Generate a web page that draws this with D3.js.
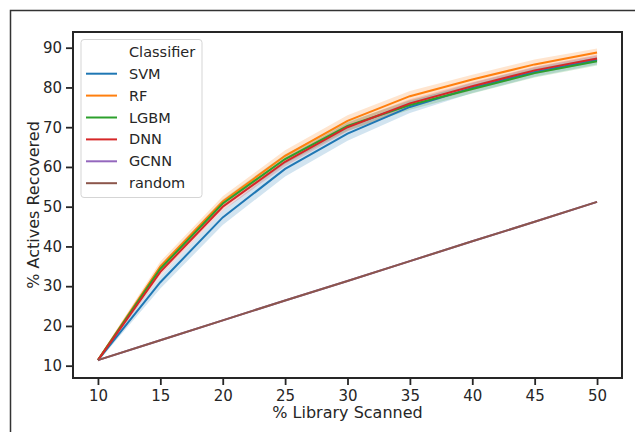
<!DOCTYPE html>
<html>
<head>
<meta charset="utf-8">
<script src="https://cdn.jsdelivr.net/npm/d3@7"></script>
<style>
  body { margin: 0; background: #fff; }
  text { font-family: "DejaVu Sans", sans-serif; fill: #262626; }
</style>
</head>
<body>
<div id="chart"></div>
<script>
// data
var xVals = [10, 15, 20, 25, 30, 35, 40, 45, 50];
var classifiers = ["SVM", "RF", "LGBM", "DNN", "GCNN", "random"];
var colors = ["#1f77b4", "#ff7f0e", "#2ca02c", "#d62728", "#9467bd", "#8c564b"];

var svmMean = [11.4, 31.0, 47.3, 59.5, 68.4, 75.1, 79.9, 83.9, 86.9];
var svmLow  = [11.0, 29.4, 45.4, 57.6, 66.6, 73.6, 78.6, 82.7, 85.8];
var svmHigh = [11.8, 32.5, 49.0, 61.3, 70.1, 76.5, 81.2, 85.1, 88.0];

var rfMean = [11.4, 35.0, 51.3, 62.8, 71.6, 77.8, 82.0, 85.8, 88.8];
var rfLow  = [11.0, 33.8, 50.0, 61.4, 70.2, 76.5, 80.8, 84.7, 87.8];
var rfHigh = [11.8, 36.2, 52.6, 64.2, 73.0, 79.1, 83.2, 87.0, 89.8];

var lgbmMean = [11.4, 34.4, 50.8, 62.0, 70.3, 75.6, 79.6, 83.6, 86.6];
var lgbmLow  = [11.0, 33.4, 49.7, 60.8, 69.1, 74.4, 78.5, 82.5, 85.5];
var lgbmHigh = [11.8, 35.4, 51.8, 63.2, 71.4, 76.8, 80.7, 84.7, 87.6];

var dnnMean = [11.4, 33.6, 50.0, 61.3, 70.0, 76.0, 80.3, 84.3, 87.3];
var dnnLow  = [11.0, 32.6, 49.0, 60.2, 68.9, 75.0, 79.3, 83.4, 86.4];
var dnnHigh = [11.8, 34.6, 51.0, 62.4, 71.1, 77.0, 81.3, 85.2, 88.2];

// GCNN runs under the random line in the picture
var gcnnMean = [11.4, 16.4, 21.4, 26.4, 31.3, 36.3, 41.3, 46.2, 51.2];
var gcnnLow  = [11.2, 16.2, 21.2, 26.2, 31.1, 36.1, 41.1, 46.0, 51.0];
var gcnnHigh = [11.6, 16.6, 21.6, 26.6, 31.5, 36.5, 41.5, 46.4, 51.4];

var randMean = [11.4, 16.4, 21.4, 26.4, 31.3, 36.3, 41.3, 46.2, 51.2];
var randLow  = [11.2, 16.2, 21.2, 26.2, 31.1, 36.1, 41.1, 46.0, 51.0];
var randHigh = [11.6, 16.6, 21.6, 26.6, 31.5, 36.5, 41.5, 46.4, 51.4];

var xTicks = [10, 15, 20, 25, 30, 35, 40, 45, 50];
var yTicks = [10, 20, 30, 40, 50, 60, 70, 80, 90];

var series = [
  { name: "SVM", mean: svmMean, lo: svmLow, hi: svmHigh },
  { name: "RF", mean: rfMean, lo: rfLow, hi: rfHigh },
  { name: "LGBM", mean: lgbmMean, lo: lgbmLow, hi: lgbmHigh },
  { name: "DNN", mean: dnnMean, lo: dnnLow, hi: dnnHigh },
  { name: "GCNN", mean: gcnnMean, lo: gcnnLow, hi: gcnnHigh },
  { name: "random", mean: randMean, lo: randLow, hi: randHigh }
];

var width = 635;
var height = 432;
// plot area edges (note: "top" is reserved on window)
var pLeft = 73, pRight = 622, pTop = 32, pBottom = 378;

var svg = d3.select("#chart")
  .append("svg")
  .attr("width", width)
  .attr("height", height);

// outer frame (cropped figure border)
svg.append("path")
  .attr("d", "M10.5," + height + "V10.5H" + width)
  .attr("fill", "none")
  .attr("stroke", "#333")
  .attr("stroke-width", 1.5);

var color = d3.scaleOrdinal().domain(classifiers).range(colors);

var xS = d3.scaleLinear().domain([8, 52]).range([pLeft, pRight]);
var yS = d3.scaleLinear().domain([6.9, 93.95]).range([pBottom, pTop]);

// bands then lines
var area = d3.area()
  .x(function(d, i) { return xS(xVals[i]); })
  .y0(function(d) { return yS(d[0]); })
  .y1(function(d) { return yS(d[1]); });

var line = d3.line()
  .x(function(d, i) { return xS(xVals[i]); })
  .y(function(d) { return yS(d); });

var plot = svg.append("g");
series.forEach(function(s) {
  plot.append("path")
    .datum(s.lo.map(function(v, i) { return [v, s.hi[i]]; }))
    .attr("d", area)
    .attr("fill", color(s.name))
    .attr("fill-opacity", 0.2)
    .attr("stroke", "none");
});
series.forEach(function(s) {
  plot.append("path")
    .datum(s.mean)
    .attr("d", line)
    .attr("fill", "none")
    .attr("stroke", color(s.name))
    .attr("stroke-width", 2);
});

// axes
var xAxis = d3.axisBottom(xS).tickValues(xTicks).tickSize(7).tickPadding(5);
var yAxis = d3.axisLeft(yS).tickValues(yTicks).tickSize(7).tickPadding(4);

var gx = svg.append("g")
  .attr("transform", "translate(0," + pBottom + ")")
  .call(xAxis);
var gy = svg.append("g")
  .attr("transform", "translate(" + pLeft + ",0)")
  .call(yAxis);

[gx, gy].forEach(function(g) {
  g.select(".domain").remove();
  g.selectAll(".tick line").attr("stroke", "#262626").attr("stroke-width", 1.8);
  g.selectAll(".tick text")
    .attr("font-size", 15)
    .attr("font-family", "DejaVu Sans, sans-serif")
    .attr("fill", "#262626");
});

// spines
svg.append("rect")
  .attr("x", pLeft)
  .attr("y", pTop)
  .attr("width", pRight - pLeft)
  .attr("height", pBottom - pTop)
  .attr("fill", "none")
  .attr("stroke", "#262626")
  .attr("stroke-width", 2);

// axis labels
svg.append("text")
  .attr("x", (pLeft + pRight) / 2)
  .attr("y", 418)
  .attr("text-anchor", "middle")
  .attr("font-size", 16)
  .text("% Library Scanned");

svg.append("text")
  .attr("transform", "translate(39," + (pTop + pBottom) / 2 + ")rotate(-90)")
  .attr("text-anchor", "middle")
  .attr("font-size", 16)
  .text("% Actives Recovered");

// legend
var legend = svg.append("g");
legend.append("rect")
  .attr("x", 81)
  .attr("y", 39.5)
  .attr("width", 121)
  .attr("height", 158)
  .attr("rx", 3)
  .attr("fill", "#fff")
  .attr("fill-opacity", 0.8)
  .attr("stroke", "#d5d5d5")
  .attr("stroke-width", 1);

legend.append("text")
  .attr("x", 129)
  .attr("y", 57)
  .attr("font-size", 14.5)
  .text("Classifier");

classifiers.forEach(function(name, i) {
  var yy = 73.7 + i * 21.9;
  legend.append("line")
    .attr("x1", 86)
    .attr("x2", 117)
    .attr("y1", yy)
    .attr("y2", yy)
    .attr("stroke", color(name))
    .attr("stroke-width", 2);
  legend.append("text")
    .attr("x", 129)
    .attr("y", yy + 5)
    .attr("font-size", 14.5)
    .text(name);
});
</script>
</body>
</html>
